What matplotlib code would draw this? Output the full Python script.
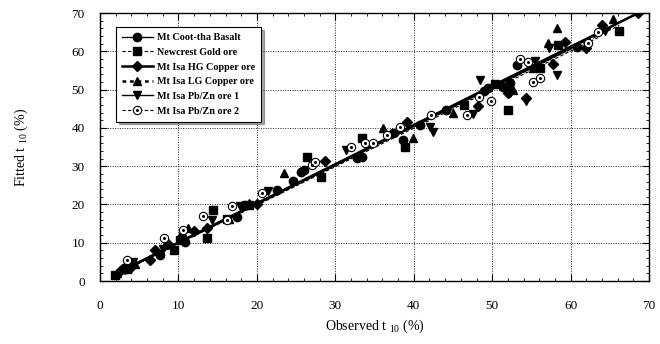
import matplotlib
matplotlib.use("Agg")
import matplotlib.pyplot as plt
from matplotlib.ticker import MultipleLocator
from matplotlib.legend_handler import HandlerTuple

plt.rcParams['font.family'] = ['Liberation Serif', 'DejaVu Serif']
plt.rcParams['mathtext.fontset'] = 'custom'
plt.rcParams['mathtext.rm'] = 'Liberation Serif'

labels = ["Mt Coot-tha Basalt", "Newcrest Gold ore", "Mt Isa HG Copper ore",
          "Mt Isa LG Copper ore", "Mt Isa Pb/Zn ore 1", "Mt Isa Pb/Zn ore 2"]

coot_x = [3.0, 7.7, 10.8, 17.5, 18.4, 22.6, 24.6, 25.6, 26.0, 32.7, 33.4, 37.4, 38.6, 40.8, 44.1, 48.9, 49.5, 51.4, 52.3, 53.2, 60.8]
coot_y = [3.5, 6.8, 10.2, 16.7, 19.8, 23.8, 26.1, 28.5, 29.0, 32.1, 32.4, 38.6, 36.8, 40.7, 44.6, 49.6, 50.4, 50.6, 51.7, 56.4, 61.1]

newc_x = [1.9, 3.5, 9.4, 10.2, 13.6, 14.4, 16.2, 19.0, 26.4, 28.2, 33.4, 38.9, 46.4, 50.4, 52.0, 52.0, 56.1, 58.4, 66.2]
newc_y = [1.6, 3.2, 8.1, 10.7, 11.2, 18.5, 16.2, 19.8, 32.4, 27.2, 37.3, 35.0, 46.0, 51.4, 44.6, 50.5, 55.6, 61.6, 65.3]

hg_x = [2.6, 4.0, 6.4, 7.0, 8.7, 12.0, 13.6, 20.0, 28.7, 39.2, 48.2, 52.0, 54.3, 57.7, 59.3, 61.9, 64.0, 68.6]
hg_y = [2.5, 3.8, 5.5, 8.1, 9.7, 13.0, 13.8, 20.1, 31.3, 41.5, 45.7, 49.1, 47.8, 56.7, 62.4, 60.8, 66.8, 70.0]

lg_x = [2.2, 4.5, 10.5, 11.2, 16.5, 19.0, 23.5, 36.1, 39.9, 45.0, 52.7, 55.2, 57.1, 58.3, 65.4]
lg_y = [2.0, 4.5, 12.8, 13.8, 16.2, 20.4, 28.2, 39.9, 37.3, 43.9, 49.9, 55.6, 62.1, 66.0, 68.4]

pz1_x = [3.2, 4.2, 8.0, 14.3, 17.9, 21.4, 31.3, 42.1, 42.5, 47.6, 48.5, 52.3, 54.3, 55.4, 57.2, 58.3, 64.4]
pz1_y = [3.0, 5.0, 8.5, 15.9, 19.6, 23.5, 34.2, 40.2, 38.9, 43.6, 52.5, 49.0, 47.0, 57.4, 61.0, 53.8, 65.3]

pz2_x = [3.4, 8.2, 10.6, 13.1, 16.2, 16.8, 20.7, 27.0, 27.4, 32.0, 33.8, 34.8, 36.6, 38.3, 42.2, 46.8, 48.3, 49.9, 53.6, 54.5, 55.2, 56.1, 62.2, 63.5]
pz2_y = [5.5, 11.2, 13.3, 17.0, 15.9, 19.6, 23.0, 30.3, 31.1, 35.0, 36.0, 36.0, 38.1, 40.2, 43.3, 43.3, 48.0, 47.0, 58.0, 57.2, 52.0, 53.0, 62.1, 65.0]

# fitted model lines (end points)
coot_fx, coot_fy = [3.0, 60.8], [2.9, 61.5]
newc_fx, newc_fy = [1.9, 66.2], [1.7, 66.8]
hg_fx, hg_fy = [2.6, 68.6], [2.5, 70.0]
lg_fx, lg_fy = [2.2, 65.4], [2.0, 66.5]
pz1_fx, pz1_fy = [3.2, 64.4], [3.0, 65.5]
pz2_fx, pz2_fy = [3.4, 63.5], [3.1, 63.6]

xticks = [0, 10, 20, 30, 40, 50, 60, 70]
yticks = [0, 10, 20, 30, 40, 50, 60, 70]

fig = plt.figure(figsize=(6.6, 3.44), dpi=100)
ax = fig.add_axes([0.1515, 0.183, 0.832, 0.779])

ms = 6
series = [
    (coot_x, coot_y, coot_fx, coot_fy, 'o', '-', 1.0),
    (newc_x, newc_y, newc_fx, newc_fy, 's', (0, (3, 2)), 0.8),
    (hg_x, hg_y, hg_fx, hg_fy, 'D', '-', 1.8),
    (lg_x, lg_y, lg_fx, lg_fy, '^', (0, (1.5, 1.5)), 1.8),
    (pz1_x, pz1_y, pz1_fx, pz1_fy, 'v', '-', 1.0),
]
handles = []
for (x, y, fx, fy, m, ls, lw) in series:
    msz = ms * 0.8 if m == 'D' else ms
    ax.plot(fx, fy, color='k', linestyle=ls, linewidth=lw, zorder=2)
    ax.plot(x, y, linestyle='none', marker=m, color='k', markersize=msz, zorder=3)
    h, = ax.plot([], [], color='k', linestyle=ls, linewidth=lw, marker=m, markersize=msz)
    handles.append(h)

# Pb/Zn ore 2: hollow circle with central dot
ax.plot(pz2_fx, pz2_fy, color='k', linestyle=(0, (3, 2)), linewidth=0.8, zorder=2)
ax.plot(pz2_x, pz2_y, linestyle='none', marker='o', markerfacecolor='white',
        markeredgecolor='k', markeredgewidth=0.8, markersize=ms, zorder=3)
ax.plot(pz2_x, pz2_y, linestyle='none', marker='o', color='k', markersize=1.2, zorder=4)
h1, = ax.plot([], [], color='k', linestyle=(0, (3, 2)), linewidth=0.8, marker='o',
              markerfacecolor='white', markeredgecolor='k', markeredgewidth=0.8, markersize=ms)
h2, = ax.plot([], [], linestyle='none', marker='o', color='k', markersize=1.2)
handles.append((h1, h2))

ax.set_xlim(0, 70)
ax.set_ylim(0, 70)
ax.set_xticks(xticks)
ax.set_yticks(yticks)
ax.xaxis.set_minor_locator(MultipleLocator(2))
ax.yaxis.set_minor_locator(MultipleLocator(2))
ax.tick_params(which='both', direction='in', top=True, right=True, labelsize=9.5)
ax.tick_params(which='major', length=5, width=0.8)
ax.tick_params(which='minor', length=2.5, width=0.6)
ax.tick_params(axis='x', pad=14)
ax.tick_params(axis='y', pad=11)
ax.grid(True, which='major', color='#222222', linestyle=(0, (1, 1.5)), linewidth=0.7)
ax.set_axisbelow(True)
for s in ax.spines.values():
    s.set_linewidth(1.0)

ax.set_xlabel(r"Observed t $_{10}$ (%)", fontsize=10, labelpad=4)
ax.set_ylabel(r"Fitted t $_{10}$ (%)", fontsize=10, labelpad=30)

leg = ax.legend(handles, labels, loc='upper left', bbox_to_anchor=(0.02, 0.967),
                prop={'weight': 'bold', 'size': 7.3}, frameon=True, fancybox=False,
                shadow=True, edgecolor='k', framealpha=1, handlelength=3.0,
                labelspacing=0.55, borderpad=0.6, handletextpad=0.4,
                handler_map={tuple: HandlerTuple(ndivide=1, pad=0)})
leg.get_frame().set_linewidth(0.8)

fig.savefig("out.png", dpi=100)
